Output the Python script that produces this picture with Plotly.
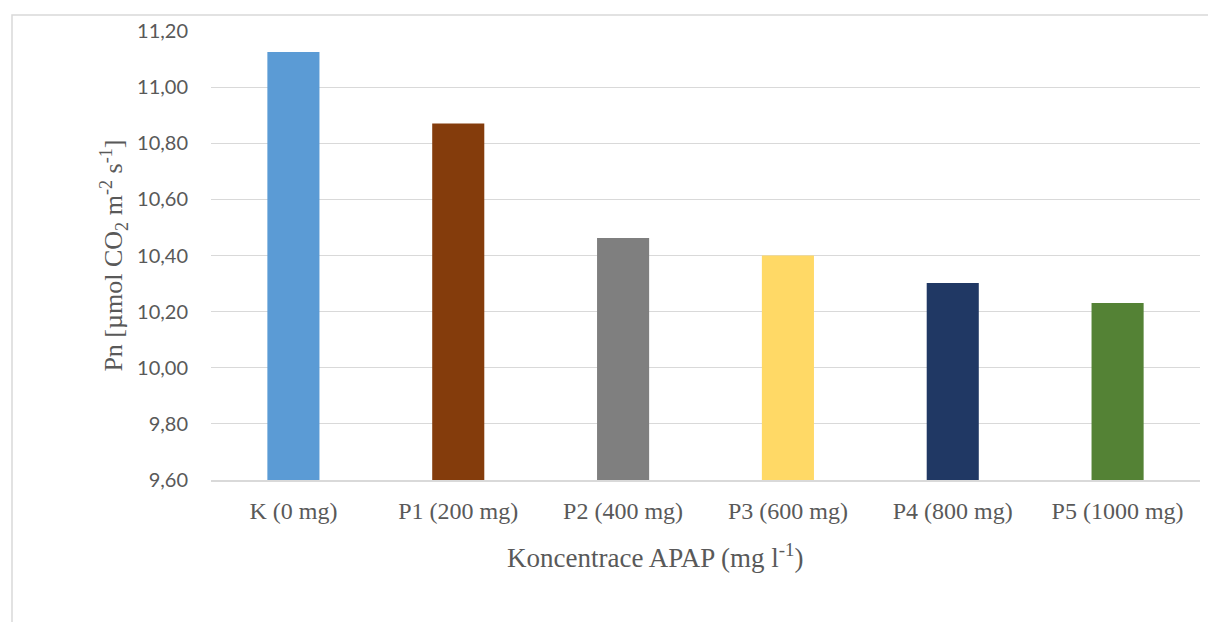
import plotly.graph_objects as go

categories = ["K (0 mg)", "P1 (200 mg)", "P2 (400 mg)", "P3 (600 mg)", "P4 (800 mg)", "P5 (1000 mg)"]
values = [11.125, 10.87, 10.462, 10.40, 10.302, 10.231]
colors = ["#5B9BD5", "#843C0C", "#7F7F7F", "#FFD966", "#203864", "#548235"]
y_ticks = [9.6, 9.8, 10.0, 10.2, 10.4, 10.6, 10.8, 11.0, 11.2]

fig = go.Figure(go.Bar(x=categories, y=values, marker=dict(color=colors, line=dict(width=0)), width=0.316))

fig.update_layout(
    width=1208, height=622,
    margin=dict(l=211, r=8, t=31, b=142),
    plot_bgcolor="white", paper_bgcolor="white",
    separators=", ",
    showlegend=False,
    bargap=0.684,
    xaxis=dict(showgrid=False, showline=True, linecolor="#D9D9D9", linewidth=1.5,
               ticks="", tickfont=dict(family="Liberation Serif", size=24, color="#595959"),
               ticklabelstandoff=8),
    yaxis=dict(range=[9.6, 11.2], tickvals=y_ticks, tickformat=".2f",
               showgrid=True, gridcolor="#D9D9D9", gridwidth=1, zeroline=False,
               ticks="", tickfont=dict(family="Lato", size=20, color="#595959"),
               ticklabelstandoff=22),
    annotations=[
        dict(text="Pn [µmol CO<sub>2</sub> m<sup>-2</sup> s<sup>-1</sup>]", textangle=-90,
             xref="paper", yref="paper", x=-0.099, y=0.5, xanchor="center", yanchor="middle",
             showarrow=False, font=dict(family="Liberation Serif", size=26, color="#595959")),
        dict(text="Koncentrace APAP (mg l<sup>-1</sup>)",
             xref="paper", yref="paper", x=0.449, y=-0.17, xanchor="center", yanchor="middle",
             showarrow=False, font=dict(family="Liberation Serif", size=27, color="#595959")),
    ],
    shapes=[
        dict(type="rect", xref="paper", yref="paper",
             x0=(12 - 211) / 989, x1=1.02, y0=-0.5, y1=(480 - 15) / 449,
             line=dict(color="#D9D9D9", width=1.5), fillcolor="rgba(0,0,0,0)", layer="below"),
    ],
)

fig.write_html("out.html")
